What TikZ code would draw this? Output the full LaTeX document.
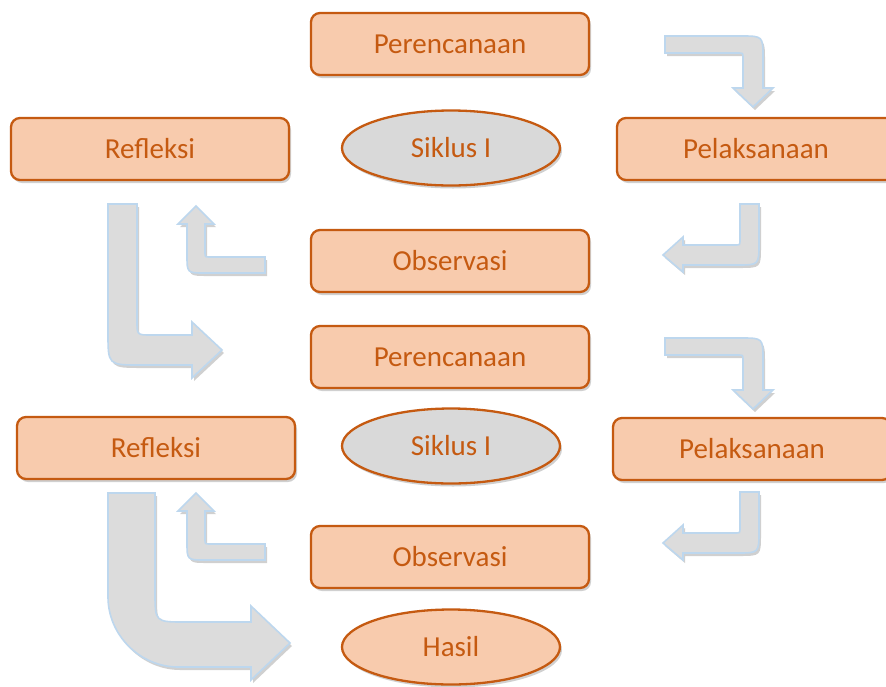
\documentclass[tikz,border=0pt]{standalone}
\usepackage{fontspec}
\setmainfont{Carlito}
\usetikzlibrary{shapes.geometric,shadows}
\definecolor{boxfill}{HTML}{F8CBAD}
\definecolor{boxline}{HTML}{C55A11}
\definecolor{txt}{HTML}{C55A11}
\definecolor{ellfill}{HTML}{D9D9D9}
\definecolor{arrfill}{HTML}{DCDCDC}
\definecolor{arrline}{HTML}{BDD7EE}
\tikzset{
  shad/.style={drop shadow={shadow xshift=2pt,shadow yshift=-3pt,opacity=0.3,fill=black!60}},
  stepbox/.style={draw=boxline,fill=boxfill,line width=2.3pt,rounded corners=9pt,
    minimum width=278pt,minimum height=62pt,inner sep=0pt,text=txt,
    font=\fontsize{29}{33}\selectfont,shad},
  cyc/.style={ellipse,draw=boxline,fill=ellfill,line width=2.3pt,
    minimum width=218pt,minimum height=75pt,inner sep=0pt,text=txt,
    font=\fontsize{29}{33}\selectfont,shad},
  bentarrow/.style={fill=arrfill,draw=arrline,line width=1.6pt,line join=miter,shad}
}
\begin{document}
\begin{tikzpicture}[x=1pt,y=-1pt]
\useasboundingbox (0,0) rectangle (886,686);
\fill[white] (0,0) rectangle (886,686);
% arrows
% top right arrow 1 and 5
\foreach \s in {0,302}{
\begin{scope}[shift={(0,\s)}]
\path[bentarrow] (665,36) -- (741,36) .. controls (763,36) .. (763,58) -- (763,88) -- (773,88) -- (753,107) -- (733,88) -- (743,88) -- (743,58) .. controls (743,53) .. (738,53) -- (665,53) -- cycle;
\end{scope}}
% right arrow 2 and 6
\foreach \s in {0,288}{
\begin{scope}[shift={(0,\s)}]
\path[bentarrow] (740,204) -- (759,204) -- (759,243) .. controls (759,265) .. (737,265) -- (683,265) -- (683,272) -- (663,255) -- (683,237) -- (683,245) -- (735,245) .. controls (740,245) .. (740,240) -- cycle;
\end{scope}}
% small left arrows 3 and 7
\foreach \s in {0,287}{
\begin{scope}[shift={(0,\s)}]
\path[bentarrow] (265,257) -- (210,257) .. controls (205,257) .. (205,252) -- (205,224) -- (214,224) -- (196,206) -- (178,224) -- (187,224) -- (187,255) .. controls (187,273) .. (205,273) -- (265,273) -- cycle;
\end{scope}}
% big L arrow 4
\path[bentarrow] (108,204) -- (137,204) -- (137,321) .. controls (137,335) .. (151,335) -- (192,335) -- (192,322) -- (222,350) -- (192,378) -- (192,365) -- (140,365) .. controls (108,365) .. (108,333) -- cycle;
% big arrow 8
\path[bentarrow] (108,493) -- (155,493) -- (155,592) .. controls (155,622) .. (185,622) -- (251,622) -- (251,606) -- (290,643) -- (251,680) -- (251,667) -- (178,667) .. controls (140,667) and (108,635) .. (108,597) -- cycle;
% nodes
\node[stepbox] (p1) at (450,44) {Perencanaan};
\node[stepbox] (r1) at (150,149) {Refleksi};
\node[cyc] (s1) at (451,148) {Siklus I};
\node[stepbox] (l1) at (756,149) {Pelaksanaan};
\node[stepbox] (o1) at (450,261) {Observasi};
\node[stepbox] (p2) at (450,357) {Perencanaan};
\node[stepbox] (r2) at (156,448) {Refleksi};
\node[cyc] (s2) at (451,446) {Siklus I};
\node[stepbox] (l2) at (752,449) {Pelaksanaan};
\node[stepbox] (o2) at (450,557) {Observasi};
\node[cyc,fill=boxfill] (h) at (451,647) {Hasil};
\end{tikzpicture}
\end{document}
